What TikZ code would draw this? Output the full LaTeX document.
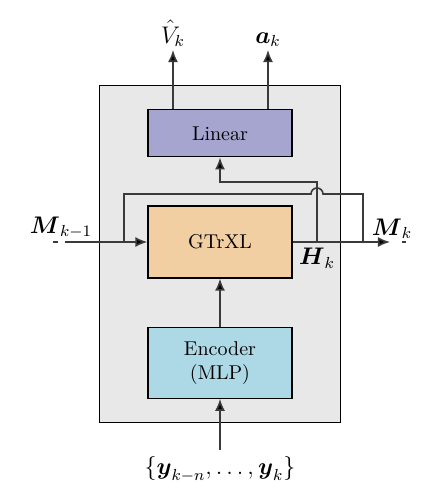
\documentclass[tikz,border=0pt]{standalone}
\usepackage{amsmath}
\usepackage{tikz}
\usetikzlibrary{arrows.meta}
\usetikzlibrary{positioning,fit,backgrounds}
\definecolor{linfill}{HTML}{A5A5CF}
\definecolor{gtrfill}{HTML}{F1CFA3}
\definecolor{encfill}{HTML}{ADD8E6}
\definecolor{netfill}{HTML}{E8E8E8}
\definecolor{linecol}{HTML}{3A3A3A}
\tikzstyle{block}=[draw, semithick, text centered, minimum width=72pt]
\tikzstyle{conn}=[thick, draw=linecol]
\tikzstyle{lbl}=[font=\large, inner sep=1.5pt]

\begin{document}
\begin{tikzpicture}
	[x=1pt, y=1pt, >={Latex[length=6pt,width=5pt,fill=black]}]
	\useasboundingbox (-110,-129) rectangle (111,121);
	\node[block, fill=gtrfill, minimum height=36pt] (gtr) at (0,0) {GTrXL};
	\node[block, fill=linfill, minimum height=23.5pt] (lin) [above = 24pt of gtr] {Linear};
	\node[block, fill=encfill, minimum height=35.5pt, align=center] (enc) [below = 24pt of gtr] {Encoder\\(MLP)};
	\begin{scope}[on background layer]
		\node[fit=(lin)(gtr)(enc), inner xsep=24pt, inner ysep=12pt, draw, semithick, fill=netfill] (net) {};
	\end{scope}

	\coordinate (mprev) at (-77.5,0);
	\coordinate (mstart) at (-83.5,0);
	\coordinate (mnext) at (85,0);
	\coordinate (mend) at (93,0);
	\coordinate (split) at (-48,0);
	\coordinate (merge) at (71.5,0);
	\coordinate (hout) at (48.5,0);
	\coordinate (hbend) at (0,30);
	\coordinate (jump) at (48.5,24);
	\coordinate (vtip) at (-23.5,96);
	\coordinate (atip) at (24,96);
	\coordinate (yin) at (0,-104);

	\node[lbl, above] (vlab) at (vtip) {$\hat{V}_k$};
	\node[lbl, above] (alab) at (atip) {$\boldsymbol{a}_k$};
	\node[lbl, above] (mplab) at ([xshift=-2pt]mprev) {$\boldsymbol{M}_{k-1}$};
	\node[lbl, above] (mnlab) at ([xshift=1pt]mnext) {$\boldsymbol{M}_k$};
	\node[lbl, below, inner sep=3pt] (hlab) at (hout) {$\boldsymbol{H}_k$};
	\node[lbl, below, inner sep=3pt] (ylab) at (yin) {$\{\boldsymbol{y}_{k-n},\dots,\boldsymbol{y}_k\}$};

	\draw[conn, dash pattern=on 2.5pt off 4pt] (mstart) -- (mprev);
	\draw[conn, ->] (mprev) -- (gtr);
	\draw[conn, ->] (gtr) -- (mnext);
	\draw[conn, dash pattern=on 0pt off 6pt on 2pt off 2pt] (mnext) -- (mend);
	\draw[conn] (split) |- ([xshift=-3pt]jump) arc[start angle=180, end angle=0, radius=3pt] -| (merge);
	\draw[conn, ->] (hout) |- (hbend) -- (lin.south);
	\draw[conn, ->] (enc) -- (gtr);
	\draw[conn, ->] (yin) -- (enc);
	\draw[conn, ->] (lin.north -| vtip) -- (vtip);
	\draw[conn, ->] (lin.north -| atip) -- (atip);
\end{tikzpicture}
\end{document}
